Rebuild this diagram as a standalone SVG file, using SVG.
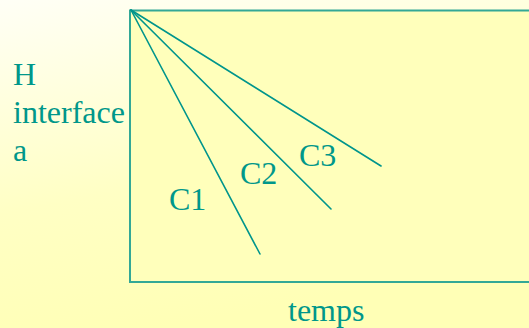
<svg xmlns="http://www.w3.org/2000/svg" width="529" height="328" viewBox="0 0 529 328">
<defs>
<linearGradient id="bg" x1="0" y1="0" x2="0.3" y2="1">
<stop offset="0" stop-color="#FFFFF6"/>
<stop offset="0.6" stop-color="#FFFFC4"/>
<stop offset="1" stop-color="#FFFFB6"/>
</linearGradient>
<style>
.t{font-family:"Liberation Serif","Times New Roman",serif;font-size:32px;fill:#00978A}
.c{stroke:#00958C;stroke-width:1.6;fill:none;stroke-linecap:round}
</style>
</defs>
<rect x="0" y="0" width="529" height="328" fill="url(#bg)"/>
<g id="frame">
<rect x="130" y="10.5" width="402" height="271.5" fill="#FFFFBB" stroke="#33A896" stroke-width="2"/>
</g>
<g id="curves">
<line class="c" x1="131" y1="10" x2="260" y2="254"/>
<line class="c" x1="131" y1="10" x2="331" y2="209"/>
<line class="c" x1="131" y1="10" x2="381" y2="166"/>
</g>
<g id="labels">
<text class="t" x="13" y="85">H</text>
<text class="t" x="13" y="123">interface</text>
<text class="t" x="13" y="161">a</text>
<text class="t" x="169" y="210">C1</text>
<text class="t" x="240" y="184">C2</text>
<text class="t" x="299" y="166">C3</text>
<text class="t" x="288" y="321">temps</text>
</g>
</svg>
